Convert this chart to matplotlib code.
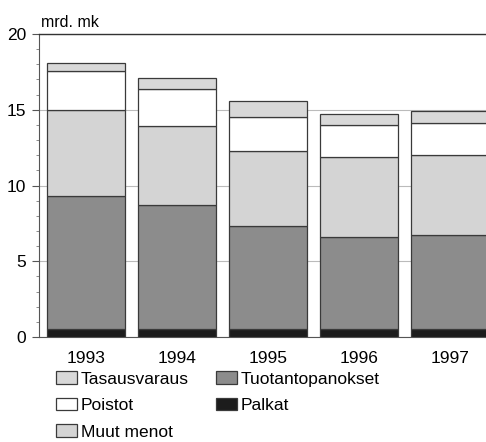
import numpy as np
import matplotlib
matplotlib.use("Agg")
import matplotlib.pyplot as plt
from matplotlib.ticker import MultipleLocator

plt.rcParams['font.family'] = ['Liberation Sans Narrow', 'Liberation Sans', 'DejaVu Sans']

years = ['1993', '1994', '1995', '1996', '1997']
palkat = [0.55, 0.55, 0.55, 0.55, 0.55]
tuotantopanokset_top = [9.3, 8.7, 7.3, 6.6, 6.7]
muut_menot_top = [15.0, 13.95, 12.25, 11.85, 12.0]
poistot_top = [17.55, 16.4, 14.55, 14.0, 14.15]
tasausvaraus_top = [18.1, 17.1, 15.6, 14.75, 14.95]

# segment heights from cumulative tops
tuotantopanokset = np.array(tuotantopanokset_top) - np.array(palkat)
muut_menot = np.array(muut_menot_top) - np.array(tuotantopanokset_top)
poistot = np.array(poistot_top) - np.array(muut_menot_top)
tasausvaraus = np.array(tasausvaraus_top) - np.array(poistot_top)

fig = plt.figure(figsize=(4.86, 4.42), dpi=100)
ax = fig.add_axes([0.080, 0.2376, 0.943, 0.6854])

x = np.arange(len(years))
w = 0.857
ec = '#3a3a3a'
lw = 0.9
b1 = ax.bar(x, palkat, w, color='#1c1c1c', edgecolor=ec, linewidth=lw, label='Palkat', zorder=3)
b2 = ax.bar(x, tuotantopanokset, w, bottom=palkat, color='#8c8c8c', edgecolor=ec,
            linewidth=lw, label='Tuotantopanokset', zorder=3)
b3 = ax.bar(x, muut_menot, w, bottom=tuotantopanokset_top, color='#d4d4d4', edgecolor=ec,
            linewidth=lw, label='Muut menot', zorder=3)
b4 = ax.bar(x, poistot, w, bottom=muut_menot_top, color='white', edgecolor=ec,
            linewidth=lw, label='Poistot', zorder=3)
b5 = ax.bar(x, tasausvaraus, w, bottom=poistot_top, color='#d8d8d8', edgecolor=ec,
            linewidth=lw, label='Tasausvaraus', zorder=3)

ax.set_xlim(-0.517, 4.517)
ax.set_ylim(0, 20)
ax.set_xticks(x)
ax.set_xticklabels(years, fontsize=12.5)
ax.set_yticks([0, 5, 10, 15, 20])
ax.yaxis.set_minor_locator(MultipleLocator(1))
ax.tick_params(axis='y', which='major', length=5, width=0.8, color='#555555', labelsize=12.5, pad=4)
ax.tick_params(axis='y', which='minor', length=2.5, width=0.6, color='#777777')
ax.tick_params(axis='x', length=0, pad=10)
ax.grid(axis='y', color='#bbbbbb', linewidth=0.8, zorder=0)
ax.set_axisbelow(True)

ax.spines['right'].set_visible(False)
ax.spines['top'].set_color('#333333')
ax.spines['top'].set_linewidth(1.0)
ax.spines['left'].set_color('#555555')
ax.spines['bottom'].set_color('#555555')

fig.text(41 / 486, 0.939, 'mrd. mk', fontsize=11.5, va='baseline', ha='left')

handles = [b5, b4, b3, b2, b1]
labels = ['Tasausvaraus', 'Poistot', 'Muut menot', 'Tuotantopanokset', 'Palkat']
fig.legend(handles, labels, ncol=2, loc='upper left', bbox_to_anchor=(0.098, 0.18),
           frameon=False, fontsize=12.5, handlelength=1.2, handleheight=0.75,
           handletextpad=0.2, labelspacing=0.64, columnspacing=1.6, borderpad=0)

fig.savefig('out.png', dpi=100)
